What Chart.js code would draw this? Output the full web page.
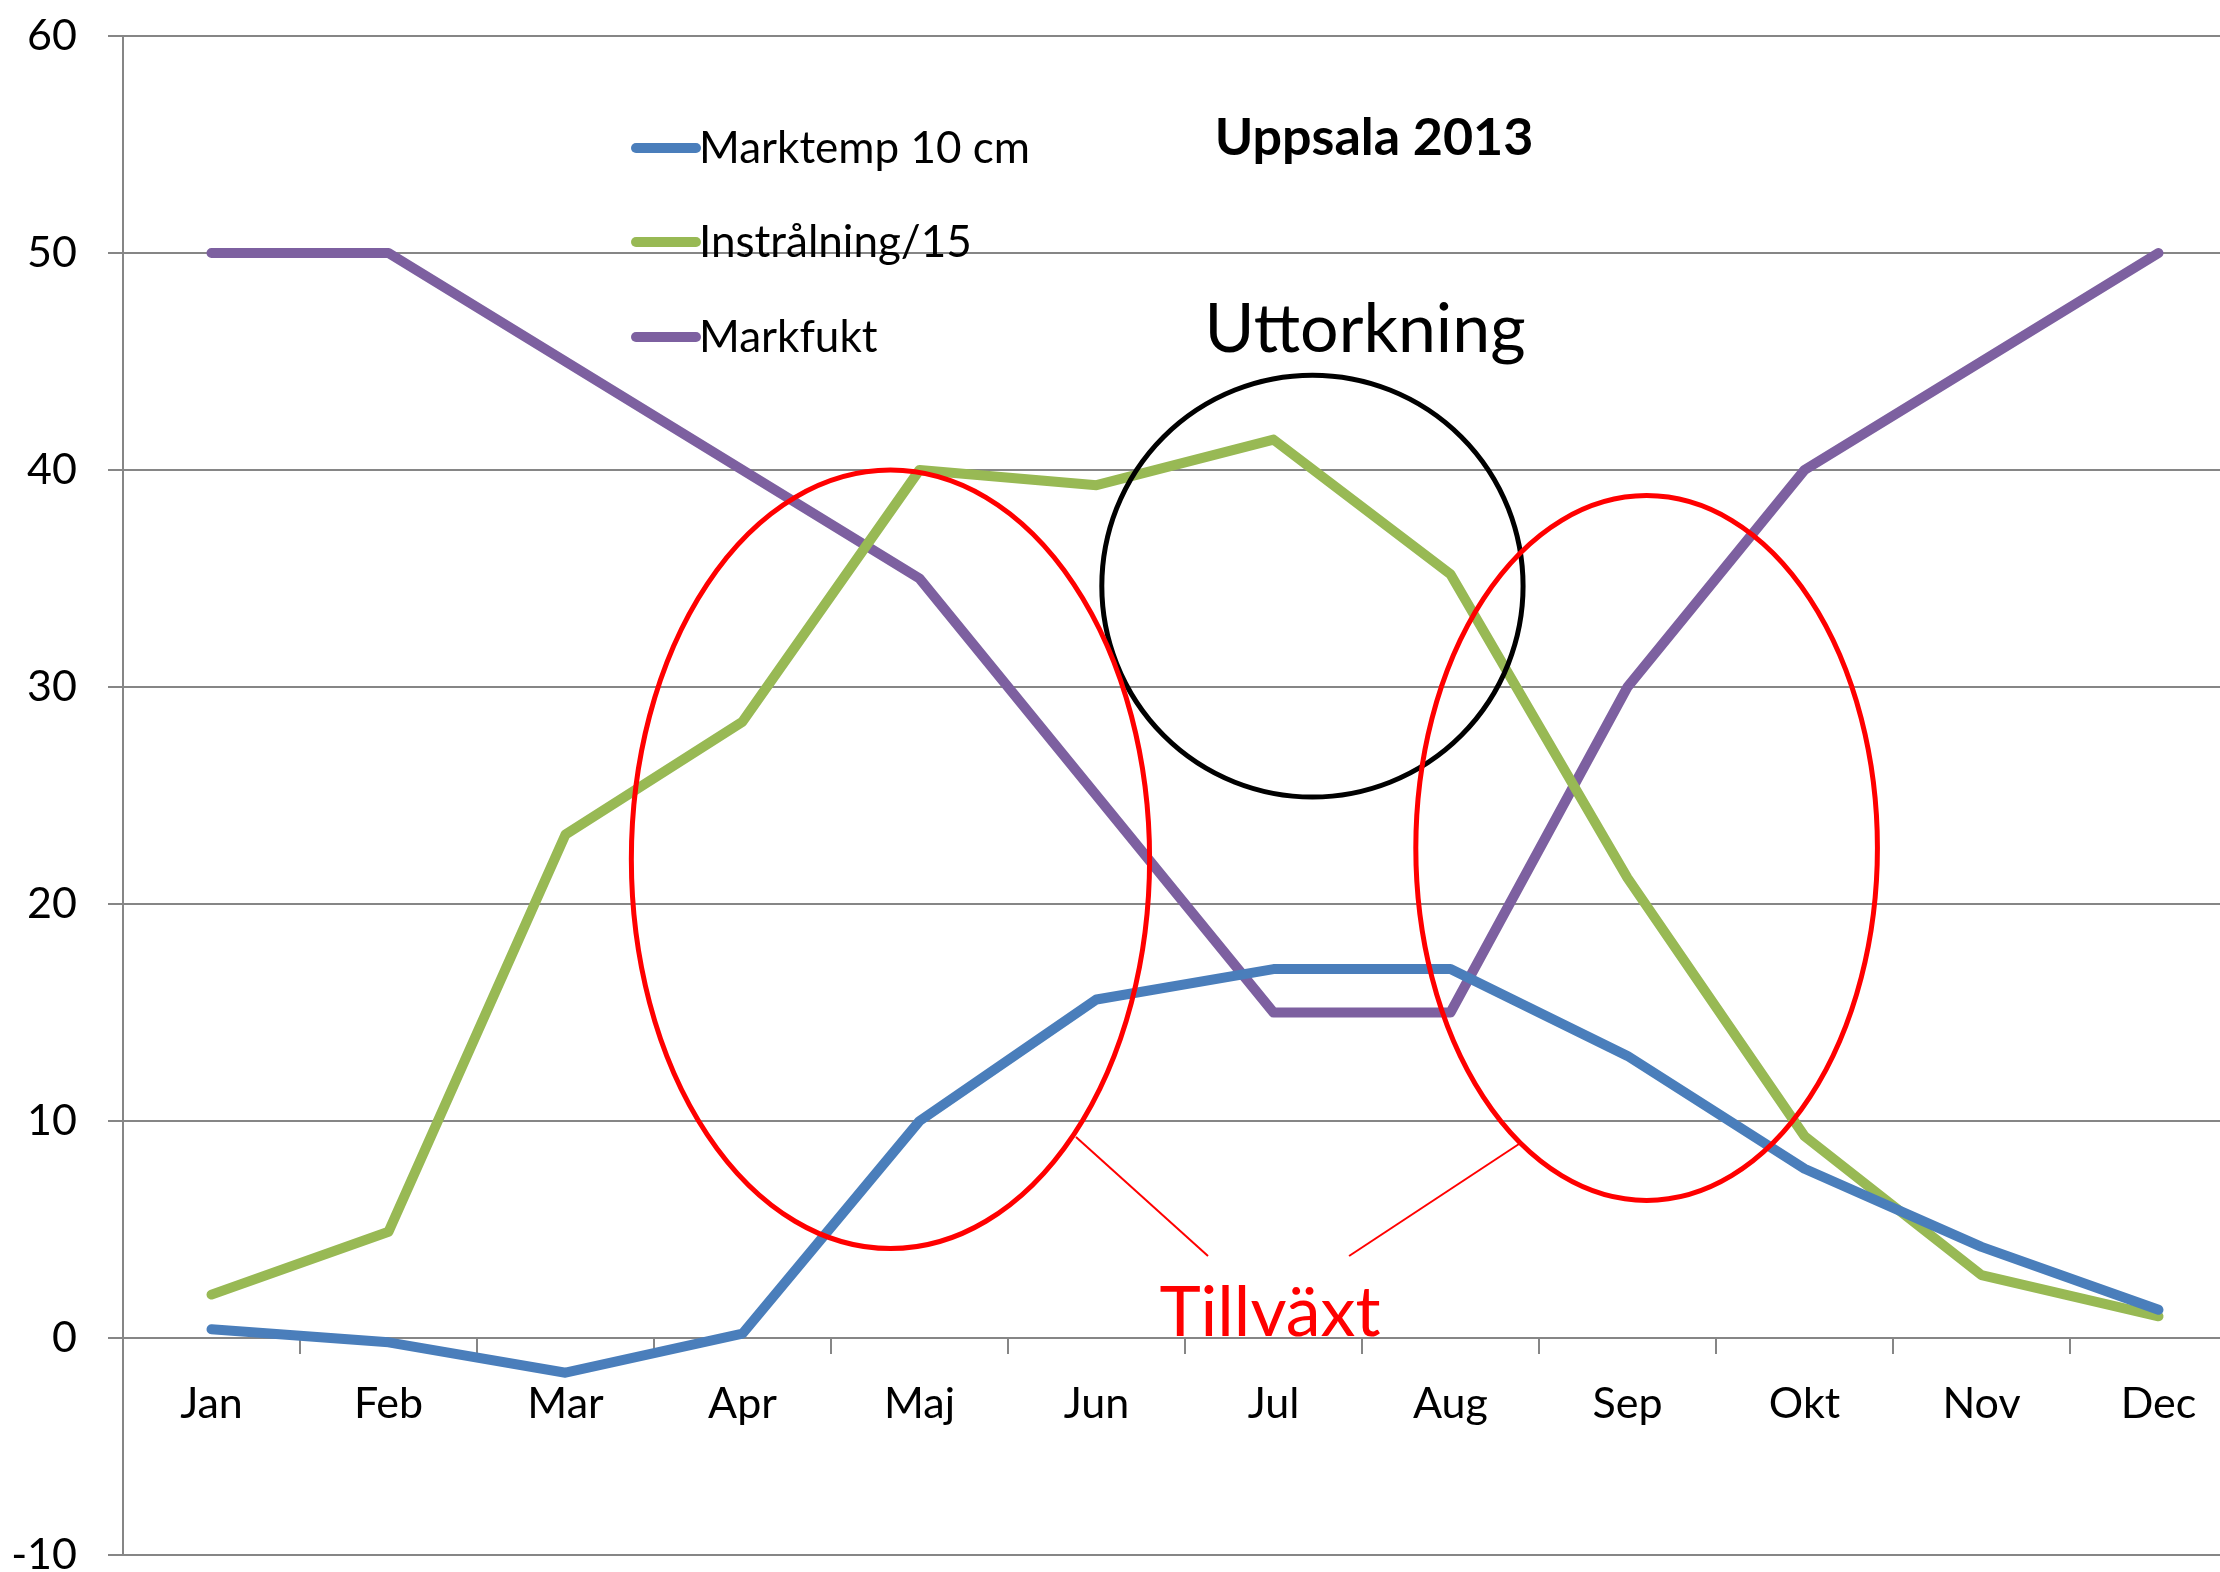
<!DOCTYPE html>
<html>
<head>
<meta charset="utf-8">
<script src="https://cdn.jsdelivr.net/npm/chart.js@4.4.0/dist/chart.umd.min.js"></script>
<style>
  html, body { margin: 0; padding: 0; background: #fff; overflow: hidden; }
  #wrap { width: 2250px; height: 1590px; }
</style>
</head>
<body>
<div id="wrap"><canvas id="myChart" width="2250" height="1590"></canvas></div>
<script>
// Data --------------------------------------------

const months = ["Jan", "Feb", "Mar", "Apr", "Maj", "Jun", "Jul", "Aug", "Sep", "Okt", "Nov", "Dec"];
const marktemp = [0.4, -0.2, -1.6, 0.2, 10.0, 15.6, 17.0, 17.0, 13.0, 7.8, 4.2, 1.3];
const instralning = [2.0, 4.9, 23.2, 28.4, 40.0, 39.3, 41.4, 35.2, 21.2, 9.3, 2.9, 1.0];
const markfukt = [50, 50, 45, 40, 35, 25, 15, 15, 30, 40, 45, 50];
const yMin = -10, yMax = 60, yStep = 10;

const FONT = "Lato, 'Open Sans', sans-serif";
const GRID = '#868686';

// Hand drawn notes, placed in axis units (x = month index, y = value)
const rings = [
	{ x: 6.22, y: 34.65, rx: 1.19, ry: 9.72, color: '#000000' },
	{ x: 3.836, y: 22.06, rx: 1.464, ry: 17.94, color: '#ff0000' },
	{ x: 8.108, y: 22.58, rx: 1.304, ry: 16.24, color: '#ff0000' }
];
const pointers = [
	{ x1: 4.884, y1: 9.26, x2: 5.63, y2: 3.78 },
	{ x1: 7.387, y1: 8.94, x2: 6.427, y2: 3.78 }
];
const notes = [
	{ text: 'Uppsala 2013', x: 6.568, y: 54.52, size: 52, weight: 'bold', color: '#000000' },
	{ text: 'Uttorkning', x: 6.517, y: 45.44, size: 68, weight: 'normal', color: '#000000' },
	{ text: 'Tillväxt', x: 5.98, y: 0.09, size: 70, weight: 'normal', color: '#ff0000' }
];

// Overlay: legend inside the plot, circles and texts
const overlay = {
	id: 'overlay',
	afterDatasetsDraw(chart) {
		const { ctx, chartArea, scales } = chart;
		const xs = scales.x, ys = scales.y;
		ctx.save();

		// rings
		rings.forEach(r => {
			const cx = xs.getPixelForValue(r.x);
			const cy = ys.getPixelForValue(r.y);
			const rx = xs.getPixelForValue(r.x + r.rx) - cx;
			const ry = cy - ys.getPixelForValue(r.y + r.ry);
			ctx.beginPath();
			ctx.ellipse(cx, cy, rx, ry, 0, 0, Math.PI * 2);
			ctx.lineWidth = 5;
			ctx.strokeStyle = r.color;
			ctx.stroke();
		});

		// pointer lines
		pointers.forEach(p => {
			ctx.beginPath();
			ctx.moveTo(xs.getPixelForValue(p.x1), ys.getPixelForValue(p.y1));
			ctx.lineTo(xs.getPixelForValue(p.x2), ys.getPixelForValue(p.y2));
			ctx.lineWidth = 2;
			ctx.strokeStyle = '#ff0000';
			ctx.stroke();
		});

		// texts
		ctx.textAlign = 'center';
		ctx.textBaseline = 'alphabetic';
		notes.forEach(n => {
			ctx.font = n.weight + ' ' + n.size + 'px ' + FONT;
			ctx.fillStyle = n.color;
			ctx.fillText(n.text, xs.getPixelForValue(n.x), ys.getPixelForValue(n.y));
		});

		// legend
		const lx = chartArea.left + 513;
		const rows = [112, 206, 301];
		ctx.textAlign = 'left';
		ctx.font = '44px ' + FONT;
		chart.data.datasets.forEach((ds, i) => {
			const ly = chartArea.top + rows[i];
			ctx.beginPath();
			ctx.moveTo(lx, ly);
			ctx.lineTo(lx + 60, ly);
			ctx.lineWidth = 10;
			ctx.lineCap = 'round';
			ctx.strokeStyle = ds.borderColor;
			ctx.stroke();
			ctx.fillStyle = '#000';
			ctx.fillText(ds.label, lx + 63, ly + 15);
		});
		ctx.restore();
	}
};

// Line chart --------------------------------------------

const lineStyle = {
	borderWidth: 10,
	pointRadius: 0,
	tension: 0,
	borderCapStyle: 'round',
	borderJoinStyle: 'round',
	fill: false
};

let ctx = document.getElementById('myChart').getContext('2d');
let chart = new Chart(ctx, {
	type: 'line',
	data: {
		labels: months,
		datasets: [
			Object.assign({ label: 'Marktemp 10 cm', data: marktemp, borderColor: '#4A7EBB' }, lineStyle),
			Object.assign({ label: 'Instrålning/15', data: instralning, borderColor: '#98B954' }, lineStyle),
			Object.assign({ label: 'Markfukt', data: markfukt, borderColor: '#7D60A0' }, lineStyle)
		]
	},
	options: {
		responsive: false,
		animation: false,
		devicePixelRatio: 1,
		layout: {
			padding: { top: 36, bottom: 35, left: 0, right: 3 }
		},
		plugins: {
			legend: { display: false },
			title: { display: false },
			tooltip: { enabled: false }
		},
		scales: {
			x: {
				position: { y: 0 },
				offset: true,
				grid: { offset: true, drawOnChartArea: false, color: GRID, lineWidth: 2, tickLength: 15 },
				border: { color: GRID, width: 2 },
				ticks: {
					color: '#000',
					font: { family: FONT, size: 43 },
					padding: 25,
					maxRotation: 0,
					autoSkip: false
				}
			},
			y: {
				min: yMin,
				max: yMax,
				grid: { color: GRID, lineWidth: 2, tickLength: 15 },
				border: { color: GRID, width: 2 },
				ticks: {
					stepSize: yStep,
					color: '#000',
					font: { family: FONT, size: 43 },
					padding: 31
				},
				afterFit: s => {
					s.width = 123;
					s.paddingTop = 0;
					s.paddingBottom = 0;
				}
			}
		}
	},
	plugins: [overlay]
});
</script>
</body>
</html>
